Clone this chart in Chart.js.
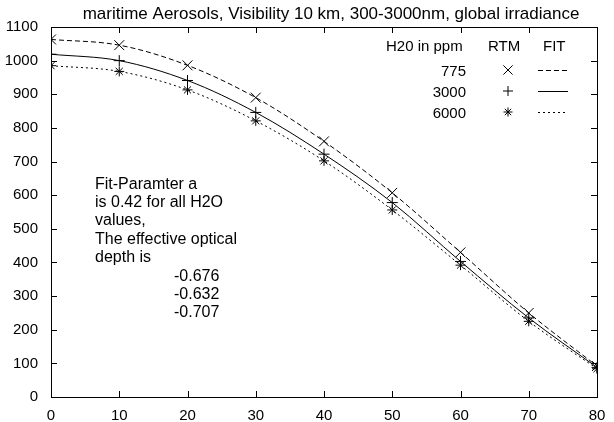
<!DOCTYPE html>
<html>
<head>
<meta charset="utf-8">
<script src="https://cdn.jsdelivr.net/npm/chart.js@4"></script>
<style>
  html, body { margin: 0; padding: 0; background: #fff; }
  #wrap { width: 614px; height: 422px; }
</style>
</head>
<body>
<div id="wrap"><canvas id="chart" width="614" height="422"></canvas></div>
<script>
// angle values (x axis)
var angles = [0, 10, 20, 30, 40, 50, 60, 70, 80];
// global irradiance per H2O content
var h2o775 = [1063, 1046, 986, 890, 760, 607, 430, 250, 92];
var h2o3000 = [1019, 1000, 941, 846, 722, 578, 403, 235, 88];
var h2o6000 = [985, 968, 913, 821, 702, 556, 392, 225, 84];
var xTicks = [0, 10, 20, 30, 40, 50, 60, 70, 80];
var yTicks = [0, 100, 200, 300, 400, 500, 600, 700, 800, 900, 1000, 1100];

var titleText = 'maritime Aerosols, Visibility 10 km, 300-3000nm, global irradiance';
var noteLines = ['Fit-Paramter a', 'is 0.42 for all H2O', 'values,', 'The effective optical', 'depth is'];
var depthValues = ['-0.676', '-0.632', '-0.707'];
var legendLabels = ['775', '3000', '6000'];
var legendStyles = ['crossRot', 'cross', 'star'];

var FAMILY = '"Liberation Sans", Arial, sans-serif';
var DASHES = [[5, 3], [], [2, 3]];
var RADII = [7, 5.5, 5];

function toPoints(ys) {
    return angles.map(function (a, i) { return { x: a, y: ys[i] }; });
}

// frame, inward ticks, title, note and legend table
var decorPlugin = {
    id: 'decor',
    afterDraw: function (c) {
        var ctx = c.ctx, a = c.chartArea;
        var xs = c.scales.x, ys = c.scales.y;
        ctx.save();
        ctx.strokeStyle = '#000';
        ctx.fillStyle = '#000';
        ctx.lineWidth = 1;
        ctx.strokeRect(a.left + 0.5, a.top + 0.5, a.right - a.left, a.bottom - a.top);
        ctx.beginPath();
        xTicks.forEach(function (t) {
            var px = Math.round(xs.getPixelForValue(t)) + 0.5;
            ctx.moveTo(px, a.bottom); ctx.lineTo(px, a.bottom - 6);
            ctx.moveTo(px, a.top); ctx.lineTo(px, a.top + 6);
        });
        yTicks.forEach(function (t) {
            var py = Math.round(ys.getPixelForValue(t)) + 0.5;
            ctx.moveTo(a.left, py); ctx.lineTo(a.left + 6, py);
            ctx.moveTo(a.right, py); ctx.lineTo(a.right - 6, py);
        });
        ctx.stroke();

        ctx.textBaseline = 'alphabetic';
        ctx.textAlign = 'center';
        ctx.font = '17px ' + FAMILY;
        ctx.fillText(titleText, 331, 19);

        ctx.textAlign = 'left';
        ctx.font = '16px ' + FAMILY;
        noteLines.forEach(function (s, i) { ctx.fillText(s, 95, 188.5 + i * 18.4); });
        depthValues.forEach(function (s, i) { ctx.fillText(s, 174, 280.5 + i * 18.4); });

        // legend table
        ctx.font = '15px ' + FAMILY;
        ctx.fillText('H20 in ppm', 386, 50.5);
        ctx.fillText('RTM', 488, 50.5);
        ctx.fillText('FIT', 543, 50.5);
        legendLabels.forEach(function (lab, i) {
            var y = 70 + i * 21;
            ctx.textAlign = 'right';
            ctx.fillText(lab, 466, y + 5.5);
            Chart.helpers.drawPoint(ctx, { pointStyle: legendStyles[i], rotation: 0, radius: RADII[i] - 0.5, borderWidth: 1 }, 508, y);
            ctx.beginPath();
            ctx.setLineDash(DASHES[i]);
            ctx.moveTo(538, y + 0.5); ctx.lineTo(568, y + 0.5);
            ctx.stroke();
            ctx.setLineDash([]);
        });
        ctx.restore();
    }
};

function series(ys, i) {
    return {
        data: toPoints(ys),
        borderColor: '#000',
        backgroundColor: '#000',
        borderWidth: 1,
        borderDash: DASHES[i],
        pointStyle: legendStyles[i],
        pointRadius: RADII[i],
        pointBorderWidth: 1,
        pointBorderColor: '#000',
        tension: 0.4,
        cubicInterpolationMode: 'monotone',
        fill: false
    };
}

var tickFont = { family: FAMILY, size: 15 };

var ctx = document.getElementById('chart').getContext('2d');
var chart = new Chart(ctx, {
    type: 'line',
    data: {
        datasets: [series(h2o775, 0), series(h2o3000, 1), series(h2o6000, 2)]
    },
    options: {
        responsive: false,
        animation: false,
        layout: { padding: { top: 27, right: 17, left: 0, bottom: 0 } },
        plugins: { legend: { display: false }, title: { display: false }, tooltip: { enabled: false } },
        scales: {
            x: {
                type: 'linear',
                min: 0, max: 80,
                afterFit: function (s) { s.height = 25; },
                afterBuildTicks: function (s) { s.ticks = xTicks.map(function (v) { return { value: v }; }); },
                grid: { display: false },
                border: { display: false },
                ticks: { color: '#000', font: tickFont, padding: 2, maxRotation: 0, callback: function (v) { return String(v); } }
            },
            y: {
                min: 0, max: 1100,
                afterFit: function (s) { s.width = 51; },
                afterBuildTicks: function (s) { s.ticks = yTicks.map(function (v) { return { value: v }; }); },
                grid: { display: false },
                border: { display: false },
                ticks: { color: '#000', font: tickFont, padding: 5, callback: function (v) { return String(v); } }
            }
        }
    },
    plugins: [decorPlugin]
});
</script>
</body>
</html>
